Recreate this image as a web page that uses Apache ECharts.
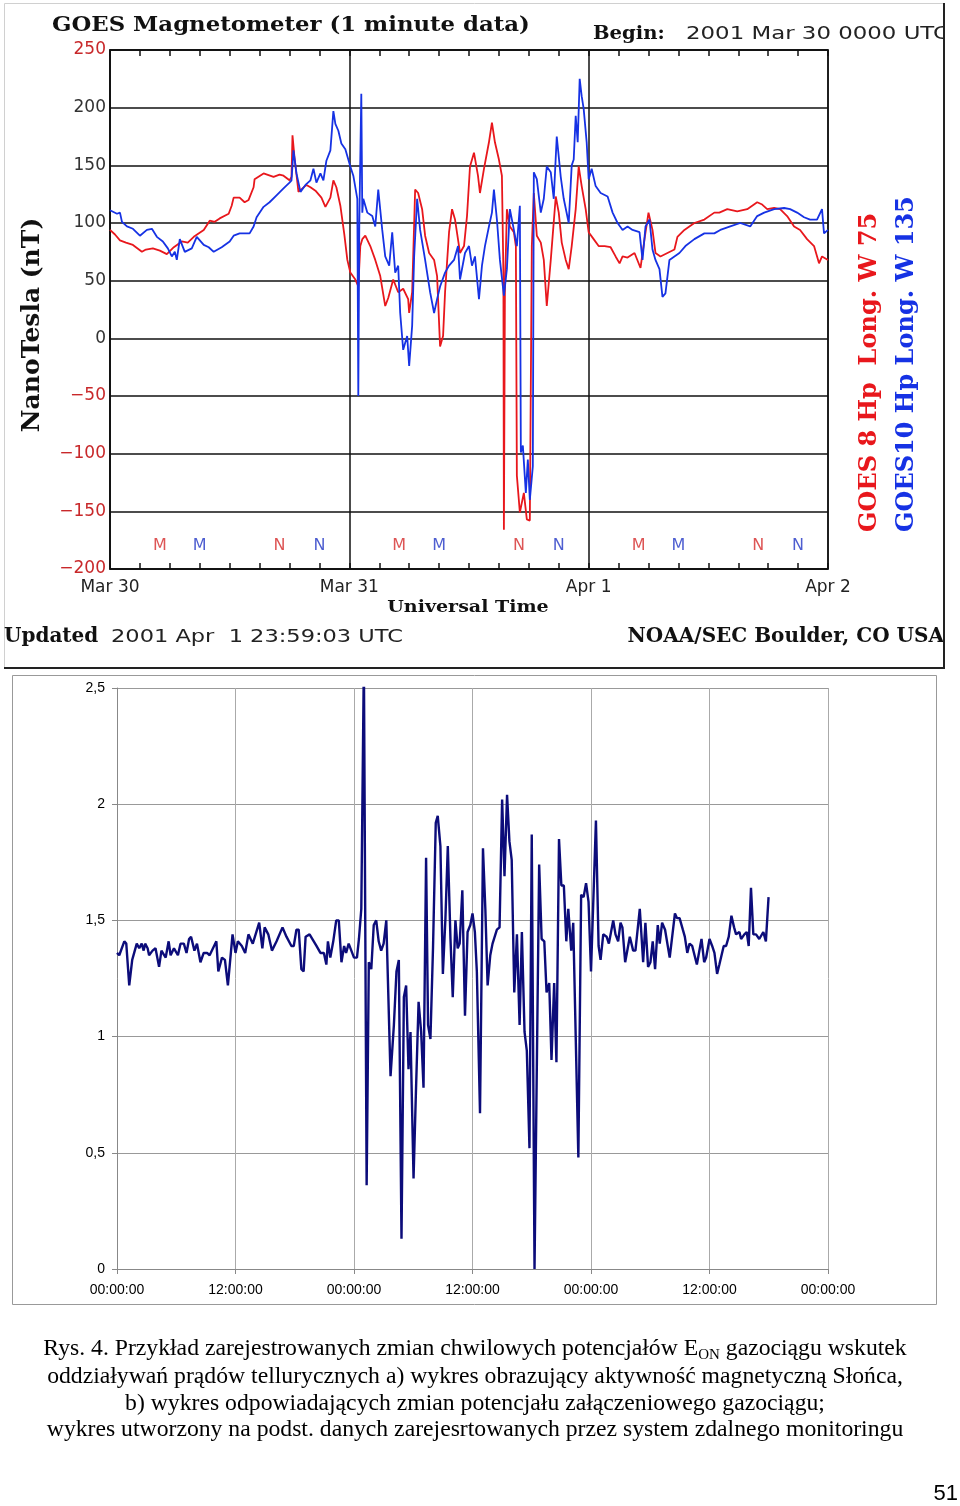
<!DOCTYPE html>
<html>
<head>
<meta charset="utf-8">
<title>GOES magnetometer and pipeline potential</title>
<script src="https://cdn.jsdelivr.net/npm/echarts@6/dist/echarts.min.js"></script>
<style>
  html, body { margin: 0; padding: 0; background: #fff; }
  #main { width: 960px; height: 1506px; }
</style>
</head>
<body>
<div id="main"></div>
<script>
// hours since 2001 Mar 30 00:00 UTC, values in nT
const g8Hours = [0, 0.5, 1, 1.6, 2.3, 3.2, 3.6, 4.3, 5, 5.7, 6.4, 7.2, 7.8, 8.4, 9.4, 10, 10.5, 11, 11.9, 12.2, 12.4, 13, 13.5, 13.9, 14.4, 14.5, 15.4, 16.4, 17, 17.4, 18, 18.2, 18.3, 18.5, 18.9, 19.3, 19.7, 20.1, 20.6, 21.2, 21.6, 22.1, 22.4, 22.7, 23.1, 23.5, 23.8, 24.1, 24.6, 24.9, 25.1, 25.3, 25.6, 26.1, 26.6, 27.1, 27.6, 27.9, 28.1, 28.4, 28.9, 29.4, 29.9, 30.0, 30.3, 30.6, 30.9, 31.3, 31.6, 32, 32.5, 32.8, 33.1, 33.4, 33.6, 34, 34.3, 34.6, 35.1, 35.5, 35.8, 36.1, 36.5, 36.9, 37.1, 37.5, 38, 38.3, 38.6, 39, 39.3, 39.45, 39.5, 39.6, 39.8, 40.1, 40.5, 40.7, 40.8, 41.1, 41.5, 41.8, 42.1, 42.3, 42.5, 42.8, 43.2, 43.5, 43.8, 44.2, 44.7, 45, 45.3, 45.7, 46, 46.3, 46.7, 47, 47.3, 47.7, 48, 48.5, 49, 49.6, 50.2, 50.7, 51.1, 51.4, 51.9, 52.6, 53.2, 53.6, 54, 54.4, 54.7, 55.2, 55.9, 56.6, 56.9, 57.6, 58.6, 59.6, 60.6, 61.1, 61.9, 62.9, 63.9, 64.9, 65.4, 65.9, 66.6, 67.2, 67.9, 68.6, 69.2, 69.9, 70.6, 71.1, 71.4, 72];
const g8Nt = [94, 90, 85, 83, 81, 75, 77, 78, 76, 73, 79, 84, 83, 88, 94, 102, 101, 104, 108, 115, 122, 122, 118, 120, 131, 138, 143, 140, 142, 141, 137, 140, 176, 157, 127, 130, 133, 131, 128, 122, 114, 122, 137, 131, 115, 90, 68, 57, 51, 45, 80, 86, 89, 80, 68, 54, 28, 35, 34, 51, 40, 43, 34, 22, 40, 129, 126, 112, 89, 74, 68, 54, -7, 2, 40, 92, 112, 103, 74, 80, 106, 149, 161, 141, 126, 147, 170, 187, 170, 155, 141, 57, -166, 40, 112, 97, 92, 80, -119, -151, -134, -157, -158, 80, 126, 89, 83, 68, 28, 68, 123, 109, 83, 68, 60, 80, 112, 149, 132, 112, 92, 86, 80, 80, 79, 71, 65, 71, 70, 74, 61, 86, 109, 94, 74, 71, 74, 77, 88, 94, 100, 103, 109, 109, 112, 110, 112, 118, 116, 112, 113, 112, 106, 97, 94, 86, 80, 65, 71, 68];

const g10Hours = [0, 0.7, 1, 1.2, 1.7, 2.3, 3, 3.7, 4.2, 4.7, 5.3, 5.8, 6.2, 6.5, 6.7, 7, 7.5, 8.2, 8.7, 9.4, 9.9, 10.4, 11.2, 12, 12.4, 13, 14, 14.4, 14.7, 15.4, 16, 16.7, 17.4, 18, 18.2, 18.4, 18.7, 19.1, 19.6, 20.1, 20.4, 20.7, 21.1, 21.4, 21.7, 22.1, 22.4, 22.6, 22.9, 23.2, 23.6, 24.1, 24.4, 24.8, 24.9, 25.0, 25.2, 25.3, 25.4, 25.8, 26.3, 26.6, 26.9, 27.3, 27.6, 28, 28.3, 28.6, 28.9, 29.1, 29.4, 29.8, 30, 30.3, 30.5, 30.8, 31.1, 31.6, 32.1, 32.5, 32.8, 33.1, 33.6, 34, 34.5, 34.9, 35.1, 35.6, 36, 36.3, 36.6, 37, 37.3, 37.6, 38, 38.3, 38.5, 38.8, 39.1, 39.5, 39.8, 40.1, 40.5, 40.8, 41.1, 41.2, 41.4, 41.7, 41.9, 42.1, 42.4, 42.5, 42.8, 43.2, 43.5, 43.8, 44.2, 44.5, 44.8, 45.2, 45.5, 46, 46.3, 46.5, 46.7, 46.9, 47.1, 47.3, 47.5, 47.8, 48, 48.3, 48.7, 49.2, 49.9, 50.4, 50.9, 51.4, 51.9, 52.4, 53.1, 53.4, 53.7, 54.1, 54.4, 54.7, 55.1, 55.4, 55.7, 56.1, 56.6, 57.1, 57.7, 58.6, 59.6, 60.6, 61.2, 62.2, 63.2, 64.2, 64.9, 65.6, 66.6, 67.6, 68.2, 68.9, 69.6, 70.2, 70.9, 71.4, 71.6, 72];
const g10Nt = [111, 108, 109, 101, 97, 95, 89, 94, 95, 88, 84, 78, 71, 75, 68, 86, 75, 78, 88, 81, 79, 75, 79, 84, 89, 91, 91, 97, 105, 114, 118, 124, 130, 135, 137, 163, 143, 127, 133, 137, 147, 135, 143, 137, 154, 163, 197, 186, 180, 169, 164, 149, 141, 121, -50, 100, 212, 109, 121, 109, 106, 97, 129, 94, 71, 63, 92, 57, 63, 22, -10, 2, -24, 11, 71, 121, 94, 68, 40, 22, 34, 45, 57, 63, 68, 80, 51, 74, 80, 63, 71, 34, 63, 80, 97, 109, 129, 103, 68, 37, 60, 112, 94, 80, 115, -99, -93, -134, -105, -140, -111, 144, 138, 109, 121, 149, 144, 121, 175, 140, 121, 100, 150, 155, 193, 170, 225, 210, 199, 170, 138, 147, 132, 126, 123, 109, 100, 94, 97, 94, 92, 68, 97, 103, 77, 68, 60, 36, 39, 68, 71, 74, 80, 86, 91, 91, 94, 97, 100, 97, 106, 109, 112, 113, 112, 109, 105, 103, 103, 112, 91, 94];

// local midnight (M) / noon (N) markers, hours
const g8Marks = [[5, 'M'], [17, 'N'], [29, 'M'], [41, 'N'], [53, 'M'], [65, 'N']];
const g10Marks = [[9, 'M'], [21, 'N'], [33, 'M'], [45, 'N'], [57, 'M'], [69, 'N']];
const dayLabels = ['Mar 30', 'Mar 31', 'Apr 1', 'Apr 2'];

// pipeline potential, hours from start, volts
const potHours = [0, 0.23, 0.74, 0.94, 1.24, 1.54, 2.0, 2.25, 2.5, 2.7, 2.85, 3.1, 3.25, 3.6, 3.9, 4.26, 4.5, 4.93, 5.23, 5.43, 5.77, 6.17, 6.43, 6.77, 7.04, 7.3, 7.5, 7.84, 8.1, 8.45, 8.78, 9.12, 9.38, 9.72, 10.06, 10.26, 10.63, 10.93, 11.23, 11.7, 12.0, 12.24, 12.64, 12.98, 13.31, 13.75, 14.4, 14.72, 14.95, 15.32, 15.69, 16.16, 16.76, 17.16, 17.66, 17.9, 18.17, 18.4, 18.67, 18.9, 19.1, 19.5, 20.2, 20.6, 20.95, 21.2, 21.36, 21.6, 21.9, 22.2, 22.46, 22.73, 23.0, 23.2, 23.46, 24.0, 24.3, 24.5, 24.74, 25.0, 25.28, 25.5, 25.75, 26.0, 26.25, 26.5, 26.75, 27.0, 27.27, 27.7, 28.04, 28.3, 28.54, 28.81, 29.05, 29.28, 29.52, 29.72, 30.03, 30.27, 30.54, 30.8, 31.04, 31.3, 31.5, 31.74, 32.0, 32.28, 32.48, 32.75, 33.0, 33.26, 33.5, 33.77, 34.0, 34.27, 34.5, 34.7, 34.97, 35.24, 35.5, 35.78, 36.0, 36.24, 36.44, 36.76, 37.06, 37.3, 37.53, 37.8, 38.03, 38.23, 38.47, 38.74, 39.0, 39.24, 39.5, 39.74, 39.97, 40.23, 40.5, 40.77, 41.0, 41.27, 41.5, 41.77, 42.0, 42.28, 42.5, 42.75, 43.0, 43.27, 43.5, 43.77, 44.0, 44.27, 44.5, 44.76, 45.0, 45.25, 45.5, 45.7, 46.0, 46.2, 46.72, 47.0, 47.25, 47.5, 47.75, 48.0, 48.5, 48.77, 48.97, 49.24, 49.58, 49.81, 50.0, 50.25, 50.48, 50.75, 50.99, 51.18, 51.46, 51.93, 52.27, 52.5, 52.94, 53.28, 53.51, 53.78, 54.02, 54.25, 54.49, 54.76, 54.96, 55.2, 55.5, 55.97, 56.5, 56.7, 56.97, 57.3, 57.5, 57.75, 57.98, 58.25, 58.72, 59.19, 59.46, 59.66, 60.0, 60.27, 60.5, 60.77, 61.0, 61.44, 61.68, 61.95, 62.22, 62.49, 62.69, 63.03, 63.2, 63.53, 63.77, 63.97, 64.2, 64.44, 64.71, 65.04, 65.45, 65.71, 65.98];
const potVolts = [1.36, 1.35, 1.41, 1.40, 1.22, 1.33, 1.40, 1.38, 1.40, 1.37, 1.40, 1.38, 1.35, 1.37, 1.38, 1.30, 1.37, 1.34, 1.41, 1.35, 1.38, 1.35, 1.40, 1.40, 1.36, 1.42, 1.43, 1.37, 1.40, 1.32, 1.36, 1.36, 1.35, 1.38, 1.41, 1.28, 1.34, 1.33, 1.22, 1.44, 1.36, 1.41, 1.39, 1.36, 1.44, 1.40, 1.49, 1.38, 1.47, 1.44, 1.37, 1.41, 1.47, 1.43, 1.39, 1.39, 1.46, 1.46, 1.29, 1.28, 1.43, 1.44, 1.39, 1.36, 1.36, 1.31, 1.41, 1.34, 1.41, 1.50, 1.50, 1.32, 1.39, 1.36, 1.40, 1.34, 1.34, 1.42, 1.55, 2.62, 0.36, 1.32, 1.29, 1.48, 1.50, 1.41, 1.37, 1.40, 1.50, 0.83, 1.05, 1.28, 1.33, 0.13, 1.17, 1.22, 0.86, 1.02, 0.39, 0.76, 1.15, 1.02, 0.78, 1.77, 1.05, 0.99, 1.38, 1.92, 1.95, 1.82, 1.27, 1.51, 1.82, 1.42, 1.17, 1.50, 1.38, 1.40, 1.63, 1.09, 1.45, 1.48, 1.53, 1.45, 1.28, 0.67, 1.81, 1.55, 1.22, 1.35, 1.40, 1.40, 1.46, 1.47, 2.02, 1.69, 2.04, 1.84, 1.76, 1.19, 1.44, 1.05, 1.45, 1.02, 0.94, 0.52, 1.87, 0.0, 0.82, 1.74, 1.42, 1.41, 1.19, 1.23, 0.90, 1.23, 0.89, 1.85, 1.65, 1.65, 1.41, 1.55, 1.37, 1.49, 0.48, 1.61, 1.60, 1.66, 1.58, 1.28, 1.93, 1.39, 1.33, 1.44, 1.43, 1.40, 1.40, 1.50, 1.44, 1.41, 1.49, 1.47, 1.32, 1.43, 1.37, 1.37, 1.55, 1.32, 1.49, 1.30, 1.32, 1.41, 1.29, 1.48, 1.40, 1.49, 1.46, 1.34, 1.53, 1.51, 1.51, 1.46, 1.43, 1.36, 1.40, 1.39, 1.31, 1.42, 1.32, 1.34, 1.42, 1.39, 1.36, 1.27, 1.31, 1.39, 1.39, 1.43, 1.52, 1.47, 1.44, 1.45, 1.42, 1.44, 1.45, 1.39, 1.64, 1.44, 1.44, 1.42, 1.45, 1.41, 1.60];
const hourLabels = ['00:00:00', '12:00:00', '00:00:00', '12:00:00', '00:00:00', '12:00:00', '00:00:00'];

const RED = '#e8171c';
const BLUE = '#1632e4';
const LABEL_RED = '#c8282a';
const SERIF = '"DejaVu Serif", serif';
const SANS = '"DejaVu Sans", sans-serif';
const TIMES = '"Liberation Serif", serif';
const ARIAL = '"Liberation Sans", Arial, sans-serif';

const zip = (xs, ys) => xs.map((x, i) => [x, ys[i]]);

// plain text element; sx stretches it sideways (the GIF font is wide-spaced)
function txt(text, x, y, font, fill, align, extra) {
    return Object.assign({
        type: 'text', x, y, z: 20,
        style: { text, font, fill, align: align || 'left', verticalAlign: 'middle' }
    }, extra || {});
}

const chart = echarts.init(document.getElementById('main'), null, { renderer: 'canvas' });

const topTicks = {
    axisTick: { show: true, inside: true, length: 6, lineStyle: { color: '#111', width: 1.5 } },
    minorTick: { show: true, splitNumber: 8, length: 6, lineStyle: { color: '#111', width: 1.5 } }
};

chart.setOption({
    animation: false,
    backgroundColor: '#fff',
    grid: [
        { left: 110, top: 50, width: 718, height: 519, show: true, borderColor: '#111', borderWidth: 1.5 },
        { left: 117, top: 688, width: 711, height: 581 }
    ],
    xAxis: [
        Object.assign({
            gridIndex: 0, type: 'value', min: 0, max: 72, interval: 24,
            axisLine: { onZero: false, lineStyle: { color: '#111', width: 1.5 } },
            splitLine: { show: true, lineStyle: { color: '#111', width: 1.5 } },
            axisLabel: {
                margin: 10, fontFamily: SANS, fontSize: 17, color: '#222',
                formatter: v => dayLabels[Math.round(v / 24)]
            }
        }, topTicks),
        Object.assign({
            gridIndex: 0, type: 'value', min: 0, max: 72, interval: 24, position: 'top',
            axisLine: { onZero: false, lineStyle: { color: '#111', width: 1.5 } },
            splitLine: { show: false },
            axisLabel: { show: false }
        }, topTicks),
        {
            gridIndex: 1, type: 'value', min: 0, max: 72, interval: 12,
            axisLine: { onZero: false, lineStyle: { color: '#888', width: 1 } },
            axisTick: { show: true, length: 5, lineStyle: { color: '#888' } },
            splitLine: { show: true, lineStyle: { color: '#aaa', width: 1 } },
            axisLabel: {
                margin: 14, fontFamily: ARIAL, fontSize: 14, color: '#000',
                formatter: v => hourLabels[Math.round(v / 12)]
            }
        }
    ],
    yAxis: [
        {
            gridIndex: 0, type: 'value', min: -200, max: 250, interval: 50,
            axisLine: { show: true, onZero: false, lineStyle: { color: '#111', width: 1.5 } },
            axisTick: { show: false },
            splitLine: { show: true, lineStyle: { color: '#111', width: 1.5 } },
            axisLabel: {
                margin: 4, fontFamily: SANS, fontSize: 17,
                color: v => (Number(v) < 0 || Number(v) === 250) ? LABEL_RED : '#333',
                formatter: v => v < 0 ? '\u2212' + Math.abs(v) : String(v)
            }
        },
        {
            gridIndex: 1, type: 'value', min: 0, max: 2.5, interval: 0.5,
            axisLine: { show: true, onZero: false, lineStyle: { color: '#888', width: 1 } },
            axisTick: { show: true, length: 5, lineStyle: { color: '#888' } },
            splitLine: { show: true, lineStyle: { color: '#999', width: 1 } },
            axisLabel: {
                margin: 12, fontFamily: ARIAL, fontSize: 14, color: '#000',
                formatter: v => String(v).replace('.', ',')
            }
        }
    ],
    series: [
        {
            name: 'GOES 8 Hp', type: 'line', xAxisIndex: 0, yAxisIndex: 0,
            data: zip(g8Hours, g8Nt), showSymbol: false,
            lineStyle: { color: RED, width: 1.8 }, z: 3
        },
        {
            name: 'GOES10 Hp', type: 'line', xAxisIndex: 0, yAxisIndex: 0,
            data: zip(g10Hours, g10Nt), showSymbol: false,
            lineStyle: { color: BLUE, width: 1.8 }, z: 4
        },
        {
            type: 'scatter', xAxisIndex: 0, yAxisIndex: 0, symbolSize: 0,
            data: g8Marks.map(m => [m[0], -180, m[1]]),
            label: { show: true, position: 'inside', formatter: p => p.data[2], color: '#d42a2a', fontFamily: SANS, fontSize: 16 }
        },
        {
            type: 'scatter', xAxisIndex: 0, yAxisIndex: 0, symbolSize: 0,
            data: g10Marks.map(m => [m[0], -180, m[1]]),
            label: { show: true, position: 'inside', formatter: p => p.data[2], color: '#2236c4', fontFamily: SANS, fontSize: 16 }
        },
        {
            name: 'E_ON', type: 'line', xAxisIndex: 2, yAxisIndex: 1,
            data: zip(potHours, potVolts), showSymbol: false, clip: true,
            lineStyle: { color: '#0c0c7a', width: 2.4 }
        }
    ],
    graphic: [
        // frame of the GOES plot image
        { type: 'rect', z: 1, shape: { x: 4.5, y: 3.5, width: 940, height: 665 }, style: { fill: 'none', stroke: '#d0d0d0', lineWidth: 1 } },
        // frame of the potential chart
        { type: 'rect', z: 1, shape: { x: 12.5, y: 675.5, width: 924, height: 629 }, style: { fill: 'none', stroke: '#999', lineWidth: 1 } },

        txt('GOES Magnetometer (1 minute data)', 52, 26, 'bold 20px ' + SERIF, '#111', 'left', { scaleX: 1.14 }),
        txt('Begin:', 593, 34, 'bold 18px ' + SERIF, '#111', 'left', { scaleX: 1.09 }),
        txt('2001 Mar 30 0000 UTC', 686, 34, '18px ' + SANS, '#222', 'left', { scaleX: 1.27 }),
        txt('NanoTesla (nT)', 32, 325, 'bold 25px ' + SERIF, '#111', 'center', { rotation: Math.PI / 2 }),
        txt('GOES 8 Hp  Long. W 75', 870, 532, 'bold 24px ' + SERIF, RED, 'left', { rotation: Math.PI / 2 }),
        txt('GOES10 Hp Long. W 135', 907, 532, 'bold 24px ' + SERIF, BLUE, 'left', { rotation: Math.PI / 2 }),
        txt('Universal Time', 468, 608, 'bold 17px ' + SERIF, '#111', 'center', { scaleX: 1.12 }),
        txt('Updated', 4, 637, 'bold 20px ' + SERIF, '#111'),
        txt('2001 Apr  1 23:59:03 UTC', 111, 637, '18px ' + SANS, '#222', 'left', { scaleX: 1.25 }),
        txt('NOAA/SEC Boulder, CO USA', 944, 637, 'bold 20px ' + SERIF, '#111', 'right'),

        // white margin right of the image, clipping the header like the GIF does
        { type: 'rect', z: 30, shape: { x: 945, y: 0, width: 15, height: 670 }, style: { fill: '#fff' } },
        { type: 'line', z: 31, shape: { x1: 944, y1: 3, x2: 944, y2: 669 }, style: { stroke: '#222', lineWidth: 2 } },
        { type: 'line', z: 31, shape: { x1: 4, y1: 668, x2: 945, y2: 668 }, style: { stroke: '#222', lineWidth: 2 } },

        {
            type: 'text', x: 475, y: 1349, z: 20,
            style: {
                text: 'Rys. 4. Przykład zarejestrowanych zmian chwilowych potencjałów E{sub|ON} gazociągu wskutek',
                font: '23.7px ' + TIMES, fill: '#000', align: 'center', verticalAlign: 'middle',
                rich: { sub: { fontSize: 15, fontFamily: TIMES, fill: '#000', padding: [13, 0, 0, 0] } }
            }
        },
        txt('oddziaływań prądów tellurycznych a) wykres obrazujący aktywność magnetyczną Słońca,', 475, 1377, '23.7px ' + TIMES, '#000', 'center'),
        txt('b) wykres odpowiadających zmian potencjału załączeniowego gazociągu;', 475, 1404, '23.7px ' + TIMES, '#000', 'center'),
        txt('wykres utworzony na podst. danych zarejesrtowanych przez system zdalnego monitoringu', 475, 1430, '23.7px ' + TIMES, '#000', 'center'),
        txt('51', 958, 1494, '22px ' + ARIAL, '#000', 'right')
    ]
});
</script>
</body>
</html>
